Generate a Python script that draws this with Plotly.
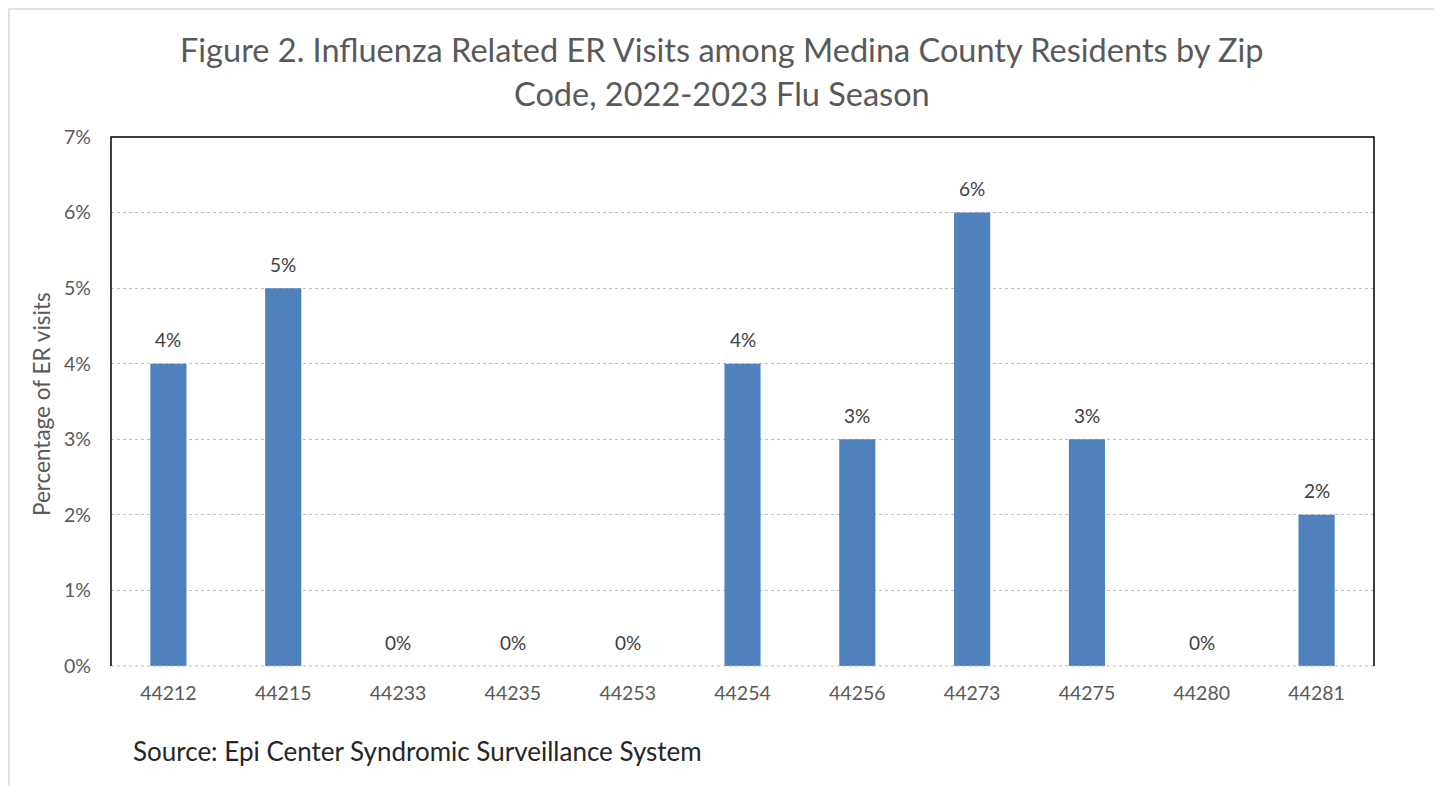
import plotly.graph_objects as go

zip_codes = ["44212", "44215", "44233", "44235", "44253", "44254", "44256", "44273", "44275", "44280", "44281"]
pct_values = [4, 5, 0, 0, 0, 4, 3, 6, 3, 0, 2]
y_ticks = [0, 1, 2, 3, 4, 5, 6, 7]
y_tick_labels = [f"{v}%" for v in y_ticks]

title_line1 = "Figure 2. Influenza Related ER Visits among Medina County Residents by Zip"
title_line2 = "Code, 2022-2023 Flu Season"
y_title = "Percentage of ER visits"
source_text = "Source: Epi Center Syndromic Surveillance System"

OFF = 8  # page body margin
W, H = 1442 - OFF, 786 - OFF
# plot-area edges in page pixels
L, R, T, B = 111, 1374, 137, 666

def px(x):
    return (x - L) / (R - L)

def py(y):
    return (B - y) / (B - T)

FONT = "Lato"

fig = go.Figure()
fig.add_trace(go.Bar(
    x=zip_codes, y=pct_values,
    marker=dict(color="#4F81BD", line=dict(width=0)),
    hoverinfo="x+y",
))

annotations = [
    dict(x=i, y=v, xref="x", yref="y", text=f"{v}%", showarrow=False,
         yanchor="middle", xanchor="center", yshift=24,
         font=dict(family=FONT, size=19, color="#404040"))
    for i, v in enumerate(pct_values)
]
annotations += [
    dict(text=title_line1, x=px(722), y=py(50), xref="paper", yref="paper",
         showarrow=False, xanchor="center", yanchor="middle",
         font=dict(family=FONT, size=32.5, color="#595959")),
    dict(text=title_line2, x=px(722), y=py(93), xref="paper", yref="paper",
         showarrow=False, xanchor="center", yanchor="middle",
         font=dict(family=FONT, size=32.5, color="#595959")),
    dict(text=y_title, x=px(42), y=py(404), xref="paper", yref="paper",
         showarrow=False, xanchor="center", yanchor="middle", textangle=-90,
         font=dict(family=FONT, size=22.5, color="#595959")),
    dict(text=source_text, x=px(131), y=py(751), xref="paper", yref="paper",
         showarrow=False, xanchor="left", yanchor="middle",
         font=dict(family=FONT, size=26, color="#262626")),
]

fig.update_layout(
    width=W, height=H,
    margin=dict(l=L - OFF, r=(W + OFF) - R, t=T - OFF, b=(H + OFF) - B, pad=0),
    paper_bgcolor="white", plot_bgcolor="white",
    bargap=0.685,
    showlegend=False,
    font=dict(family=FONT, color="#595959"),
    xaxis=dict(
        type="category", categoryorder="array", categoryarray=zip_codes,
        range=[-0.5, len(zip_codes) - 0.5],
        showgrid=False, zeroline=False, showline=False,
        ticks="", tickfont=dict(family=FONT, size=19.5, color="#595959"),
        ticklabelstandoff=13,
    ),
    yaxis=dict(
        range=[0, 7], tickvals=y_ticks, ticktext=y_tick_labels,
        showgrid=True, gridcolor="#BFBFBF", griddash="dot", gridwidth=1,
        zeroline=False, showline=False, ticks="",
        tickfont=dict(family=FONT, size=19.5, color="#595959"),
        ticklabelstandoff=19,
    ),
    annotations=annotations,
    shapes=[
        # outer chart border
        dict(type="rect", xref="paper", yref="paper",
             x0=px(OFF + 1), x1=px(1438), y0=py(800), y1=py(OFF + 1),
             line=dict(color="#D9D9D9", width=1.5), layer="below"),
        # zero line
        dict(type="line", xref="paper", yref="paper", x0=0, x1=1, y0=0, y1=0,
             line=dict(color="#BFBFBF", width=1, dash="dot")),
        # plot border: left, top, right
        dict(type="path", xref="paper", yref="paper",
             path="M 0 0 L 0 1 L 1 1 L 1 0",
             line=dict(color="#000000", width=1.5)),
    ],
)

fig.write_html("out.html")
